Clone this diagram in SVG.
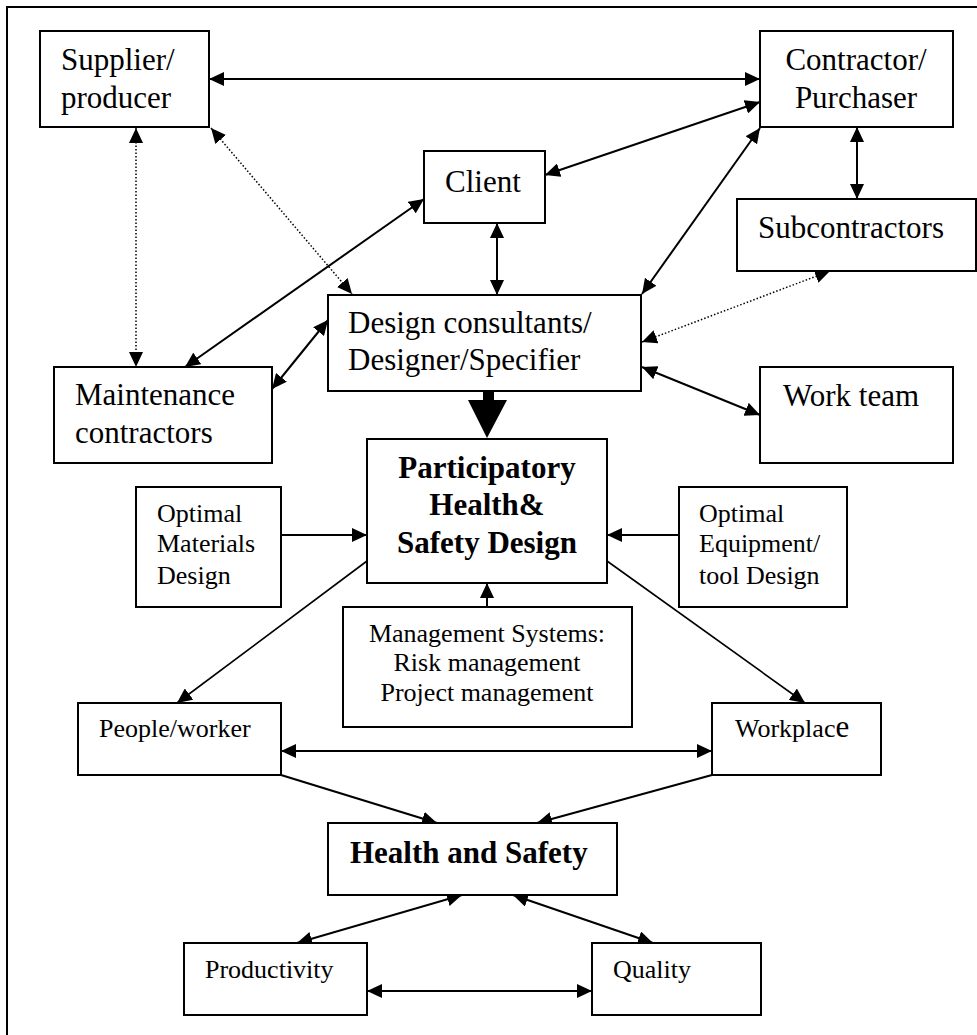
<svg xmlns="http://www.w3.org/2000/svg" width="977" height="1035" viewBox="0 0 977 1035">
<style>
.box{fill:#fff;stroke:#000;stroke-width:2}
.t{font-family:"Liberation Serif","Times New Roman",serif;fill:#000}
.big{font-size:31px}
.sm{font-size:26px}
.b{font-weight:bold}
.c{text-anchor:middle}
.ln{fill:none;stroke:#000;stroke-width:2}
.thin{stroke-width:1.6}
.dot{stroke-width:1.5;stroke-dasharray:1.5 2}
.two{marker-start:url(#ah);marker-end:url(#ah)}
.one{marker-end:url(#ah)}
</style>
<defs>
<marker id="ah" markerUnits="userSpaceOnUse" markerWidth="15" markerHeight="14" refX="15" refY="7" orient="auto-start-reverse" viewBox="0 0 15 14">
<path d="M0,0 L15,7 L0,14 z" fill="#000"/>
</marker>
</defs>
<rect x="0" y="0" width="977" height="1035" fill="#fff"/>
<rect x="7" y="7" width="990" height="1050" fill="none" stroke="#000" stroke-width="2"/>

<g id="connectors">
<line class="ln two" x1="209" y1="79" x2="760" y2="79"/>
<line class="ln two" x1="760" y1="102" x2="545" y2="175"/>
<line class="ln two" x1="857" y1="127" x2="857" y2="199"/>
<line class="ln two" x1="497" y1="223" x2="497" y2="295"/>
<line class="ln two" x1="760" y1="128" x2="642" y2="294"/>
<line class="ln two" x1="424" y1="199" x2="185" y2="367"/>
<line class="ln two" x1="272" y1="389" x2="328" y2="320"/>
<line class="ln dot two" x1="136" y1="128" x2="136" y2="367"/>
<line class="ln dot two" x1="211" y1="128" x2="352" y2="294"/>
<line class="ln dot two" x1="830" y1="271" x2="642" y2="342"/>
<line class="ln two" x1="642" y1="367" x2="760" y2="415"/>
<path d="M483,391 L494,391 L494,400 L507,400 L487,438 L468,400 L483,400 z" fill="#000"/>
<line class="ln one" x1="281" y1="535" x2="367" y2="535"/>
<line class="ln one" x1="679" y1="535" x2="607" y2="535"/>
<line class="ln one" x1="487" y1="607" x2="487" y2="583"/>
<line class="ln thin one" x1="367" y1="561" x2="177" y2="703"/>
<line class="ln thin one" x1="607" y1="561" x2="805" y2="703"/>
<line class="ln two" x1="281" y1="751" x2="712" y2="751"/>
<line class="ln one" x1="281" y1="775" x2="437" y2="823"/>
<line class="ln one" x1="712" y1="775" x2="537" y2="823"/>
<line class="ln two" x1="462" y1="895" x2="297" y2="943"/>
<line class="ln two" x1="513" y1="895" x2="653" y2="943"/>
<line class="ln two" x1="367" y1="991" x2="592" y2="991"/>
</g>

<g id="supplier">
<rect class="box" x="40" y="31" width="169" height="96"/>
<text class="t big" x="61" y="70">Supplier/</text>
<text class="t big" x="61" y="108">producer</text>
</g>
<g id="contractor">
<rect class="box" x="760" y="31" width="193" height="96"/>
<text class="t big c" x="856" y="70">Contractor/</text>
<text class="t big c" x="856" y="108">Purchaser</text>
</g>
<g id="client">
<rect class="box" x="424" y="151" width="121" height="72"/>
<text class="t big" x="445" y="192">Client</text>
</g>
<g id="subcontractors">
<rect class="box" x="737" y="199" width="239" height="72"/>
<text class="t big" x="758" y="238">Subcontractors</text>
</g>
<g id="design">
<rect class="box" x="328" y="295" width="313" height="96"/>
<text class="t big" x="348" y="333">Design consultants/</text>
<text class="t big" x="348" y="370">Designer/Specifier</text>
</g>
<g id="maintenance">
<rect class="box" x="54" y="367" width="218" height="96"/>
<text class="t big" x="75" y="405">Maintenance</text>
<text class="t big" x="75" y="443">contractors</text>
</g>
<g id="workteam">
<rect class="box" x="760" y="367" width="193" height="96"/>
<text class="t big" x="783" y="406">Work team</text>
</g>
<g id="participatory">
<rect class="box" x="367" y="439" width="240" height="144"/>
<text class="t big b c" x="487" y="478">Participatory</text>
<text class="t big b c" x="487" y="515">Health&amp;</text>
<text class="t big b c" x="487" y="553">Safety Design</text>
</g>
<g id="materials">
<rect class="box" x="136" y="487" width="145" height="120"/>
<text class="t sm" x="157" y="522">Optimal</text>
<text class="t sm" x="157" y="552">Materials</text>
<text class="t sm" x="157" y="584">Design</text>
</g>
<g id="equipment">
<rect class="box" x="679" y="487" width="168" height="120"/>
<text class="t sm" x="699" y="522">Optimal</text>
<text class="t sm" x="699" y="552">Equipment/</text>
<text class="t sm" x="699" y="584">tool Design</text>
</g>
<g id="management">
<rect class="box" x="343" y="607" width="289" height="120"/>
<text class="t sm c" x="487" y="642">Management Systems:</text>
<text class="t sm c" x="487" y="671">Risk management</text>
<text class="t sm c" x="487" y="701">Project management</text>
</g>
<g id="people">
<rect class="box" x="78" y="703" width="203" height="72"/>
<text class="t sm" x="99" y="737">People/worker</text>
</g>
<g id="workplace">
<rect class="box" x="712" y="703" width="169" height="72"/>
<text class="t sm" x="735" y="737">Workplac<tspan style="font-size:31px">e</tspan></text>
</g>
<g id="healthsafety">
<rect class="box" x="328" y="823" width="289" height="72"/>
<text class="t big b" x="350" y="863">Health and Safety</text>
</g>
<g id="productivity">
<rect class="box" x="184" y="943" width="183" height="72"/>
<text class="t sm" x="205" y="978">Productivity</text>
</g>
<g id="quality">
<rect class="box" x="592" y="943" width="169" height="72"/>
<text class="t sm" x="613" y="978">Quality</text>
</g>
</svg>
